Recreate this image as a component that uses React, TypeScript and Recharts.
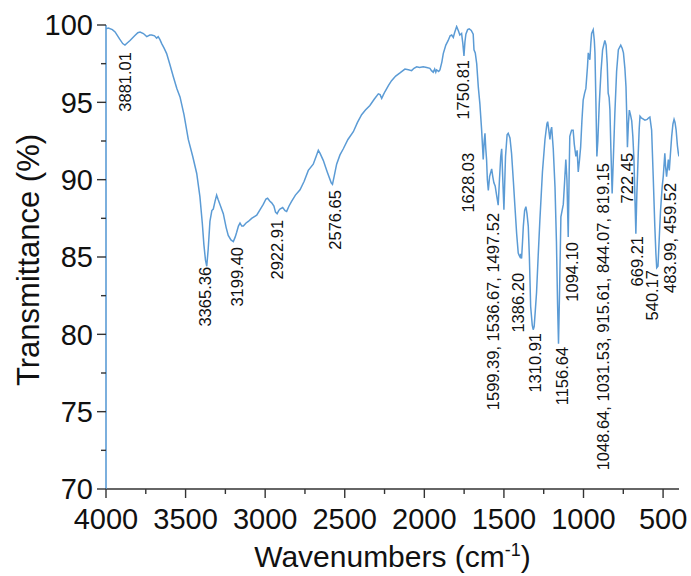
import React from 'react';
import { ComposedChart, Line, Scatter, XAxis, YAxis } from 'recharts';

// ---- spectrum data (wavenumber in cm^-1, transmittance in %) ----
const wavenumbers = [
  4000, 3985, 3960, 3943, 3915, 3895, 3881, 3865, 3849, 3820, 3800, 3786, 3765, 3744, 3725, 3713, 3695, 3682, 3672, 3661,
  3650, 3635, 3619, 3600, 3577, 3555, 3535, 3510, 3483, 3455, 3430, 3410, 3395, 3385, 3375, 3367, 3358, 3347, 3335, 3326,
  3315, 3305, 3295, 3284, 3263, 3245, 3232, 3215, 3200, 3188, 3179, 3168, 3158, 3147, 3137, 3120, 3106, 3085, 3053, 3030,
  3012, 2995, 2985, 2970, 2959, 2945, 2935, 2925, 2915, 2907, 2890, 2875, 2865, 2850, 2834, 2810, 2781, 2755, 2729, 2698,
  2680, 2666, 2655, 2635, 2610, 2585, 2577, 2565, 2551, 2530, 2509, 2480, 2446, 2420, 2394, 2370, 2342, 2315, 2289, 2278,
  2268, 2257, 2247, 2225, 2206, 2180, 2153, 2122, 2100, 2080, 2065, 2048, 2030, 2007, 1985, 1965, 1955, 1944, 1935, 1928,
  1923, 1910, 1902, 1890, 1881, 1865, 1850, 1838, 1828, 1818, 1810, 1797, 1785, 1777, 1766, 1758, 1751, 1745, 1739, 1728,
  1718, 1705, 1693, 1688, 1680, 1671, 1661, 1651, 1640, 1630, 1624, 1619, 1614, 1609, 1604, 1598, 1590, 1577, 1570, 1563,
  1555, 1546, 1536, 1528, 1520, 1514, 1507, 1500, 1490, 1480, 1473, 1462, 1452, 1440, 1431, 1420, 1410, 1404, 1399, 1394,
  1389, 1383, 1378, 1370, 1362, 1355, 1347, 1340, 1332, 1322, 1316, 1310, 1303, 1295, 1285, 1274, 1258, 1242, 1230, 1225,
  1218, 1211, 1205, 1200, 1190, 1179, 1170, 1163, 1157, 1150, 1142, 1127, 1118, 1111, 1104, 1096, 1090, 1086, 1075, 1065,
  1058, 1048, 1040, 1033, 1025, 1018, 1010, 1002, 993, 985, 975, 970, 965, 960, 954, 949, 939, 932, 928, 922,
  916, 910, 901, 890, 880, 866, 858, 851, 845, 839, 834, 828, 820, 812, 803, 792, 781, 766, 757, 749,
  740, 733, 728, 724, 718, 712, 705, 697, 690, 683, 676, 671, 665, 656, 650, 645, 637, 629, 614, 600,
  590, 583, 572, 562, 552, 545, 540, 532, 525, 516, 506, 499, 489, 484, 478, 472, 467, 461, 455, 446,
  438, 431, 425, 418, 410, 404, 400,
];

const transmittance = [
  99.75, 99.8, 99.7, 99.55, 99.1, 98.8, 98.7, 98.85, 99.0, 99.3, 99.5, 99.55, 99.45, 99.25, 99.35, 99.35, 99.3, 99.15, 99.25, 99.05,
  98.8, 98.5, 98.15, 97.5, 96.65, 95.9, 95.35, 94.2, 92.6, 91.5, 90.4, 88.9, 87.2, 85.8, 84.8, 84.4, 85.5, 87.3, 88.0, 88.1,
  88.6, 89.0, 88.7, 88.4, 87.8, 86.9, 86.4, 86.1, 86.0, 86.3, 86.6, 87.0, 87.2, 87.0, 87.0, 87.2, 87.3, 87.5, 87.7, 88.1,
  88.4, 88.75, 88.8, 88.6, 88.5, 88.3, 87.9, 87.8, 88.0, 88.1, 88.2, 88.0, 87.95, 88.3, 88.6, 89.0, 89.35, 89.9, 90.6, 91.0,
  91.5, 91.9, 91.7, 91.25, 90.5, 89.8, 89.7, 90.3, 91.0, 91.6, 92.0, 92.6, 93.1, 93.7, 94.2, 94.5, 94.8, 95.2, 95.55, 95.5,
  95.25, 95.5, 95.7, 96.1, 96.4, 96.7, 96.9, 97.15, 97.1, 97.05, 97.2, 97.3, 97.25, 97.3, 97.25, 97.2, 97.05, 96.95, 97.15, 96.95,
  97.1, 97.0, 97.1, 97.6, 98.15, 98.7, 99.0, 99.3, 99.35, 99.2, 99.5, 99.9, 99.6, 99.35, 99.45, 98.8, 98.0, 98.9, 99.4, 99.7,
  99.75, 99.65, 99.4, 98.4, 98.2, 97.5, 96.0, 94.9, 93.2, 91.3, 92.5, 93.0, 92.0, 91.3, 90.0, 89.3, 90.2, 90.7, 90.2, 89.8,
  89.6, 89.0, 88.35, 90.0, 91.5, 92.0, 90.0, 88.05, 91.5, 92.9, 93.0, 92.7, 91.7, 89.8, 88.3, 86.5, 85.25, 85.1, 85.0, 85.2,
  84.9, 86.0, 87.0, 88.0, 88.25, 87.8, 87.0, 85.0, 81.8, 80.6, 80.3, 80.5, 81.5, 82.7, 85.0, 87.4, 90.5, 92.6, 93.6, 93.75,
  93.2, 92.6, 93.2, 93.4, 92.0, 89.5, 86.0, 82.0, 79.4, 83.0, 87.6, 88.4, 90.0, 91.3, 90.0, 86.3, 90.5, 92.8, 93.2, 93.2,
  92.3, 91.5, 91.9, 90.5, 91.3, 92.1, 93.8, 95.15, 95.6, 95.9, 97.3, 98.2, 98.0, 97.75, 98.8, 99.46, 99.7, 99.0, 98.2, 95.0,
  91.5, 92.5, 94.9, 97.0, 98.4, 99.0, 98.7, 97.5, 95.6, 95.3, 94.5, 92.0, 89.1, 91.5, 94.3, 97.0, 98.4, 98.7, 98.5, 98.2,
  97.2, 96.0, 94.0, 92.1, 93.6, 94.5, 94.2, 93.8, 92.8, 91.3, 88.5, 86.5, 89.0, 91.7, 93.3, 94.1, 94.0, 93.95, 93.85, 93.9,
  94.0, 94.05, 93.2, 90.2, 87.0, 85.2, 84.3, 84.4, 86.0, 88.0, 89.5, 90.2, 91.7, 90.8, 90.2, 90.8, 91.3, 90.6, 91.5, 92.8,
  93.6, 93.9, 93.7, 93.2, 92.2, 91.7, 91.5,
];

// ---- peak annotations ----
const peakLabels = [
  '3881.01', '3365.36', '3199.40', '2922.91', '2576.65', '1750.81', '1628.03',
  '1599.39, 1536.67, 1497.52', '1386.20', '1310.91', '1156.64', '1094.10',
  '1048.64, 1031.53, 915.61, 844.07, 819.15', '722.45', '669.21', '540.17', '483.99, 459.52',
];
const peakLabelWn = [3881, 3378, 3177, 2926, 2562, 1758, 1726, 1569, 1412, 1305, 1136, 1073, 878, 727, 665, 570, 457];
const peakLabelT = [98.25, 84.36, 85.65, 87.4, 89.33, 97.74, 91.73, 87.85, 83.97, 80.09, 79.19, 85.97, 91.08, 91.73, 86.36, 84.16, 89.79];

// ---- axes ----
const xMajorTicks = [4000, 3500, 3000, 2500, 2000, 1500, 1000, 500];
const xMinorTicks = [3750, 3250, 2750, 2250, 1750, 1250, 750];
const yMajorTicks = [70, 75, 80, 85, 90, 95, 100];
const yMinorTicks = [72.5, 77.5, 82.5, 87.5, 92.5, 97.5];

const spectrum = wavenumbers.map((wn, i) => ({ wn, t: transmittance[i] }));
const annotations = peakLabels.map((text, i) => ({ wn: peakLabelWn[i], t: peakLabelT[i], text }));

const FONT = '"Liberation Sans", Arial, Helvetica, sans-serif';
const LINE_COLOR = '#5b9bd5';
const AXIS_COLOR = '#333333';

const xTicksAll = [...xMajorTicks, ...xMinorTicks].sort((a, b) => b - a);
const yTicksAll = [...yMajorTicks, ...yMinorTicks].sort((a, b) => a - b);

const XTick = (props: any) => {
  const { x, y, payload } = props;
  const v = payload.value;
  const major = xMajorTicks.includes(v);
  return (
    <g>
      <line x1={x} x2={x} y1={y} y2={y + (major ? 9 : 5)} stroke={AXIS_COLOR} strokeWidth={1.4} />
      {major && (
        <text x={x} y={y + 19} dy="0.71em" textAnchor="middle" fontFamily={FONT} fontSize={29} fill="#111">
          {v}
        </text>
      )}
    </g>
  );
};

const YTick = (props: any) => {
  const { x, y, payload } = props;
  const v = payload.value;
  const major = yMajorTicks.includes(v);
  return (
    <g>
      <line x1={x} x2={x - (major ? 9 : 5)} y1={y} y2={y} stroke={AXIS_COLOR} strokeWidth={1.4} />
      {major && (
        <text x={x - 13} y={y} dy="0.36em" textAnchor="end" fontFamily={FONT} fontSize={29} fill="#111">
          {v}
        </text>
      )}
    </g>
  );
};

const PeakLabel = (props: any) => {
  const { cx, cy, payload } = props;
  if (cx == null || cy == null) return null;
  return (
    <text
      x={cx}
      y={cy}
      dy="0.36em"
      textAnchor="end"
      transform={`rotate(-90 ${cx} ${cy})`}
      fontFamily={FONT}
      fontSize={16.5}
      fill="#111"
    >
      {payload.text}
    </text>
  );
};

const XTitle = (props: any) => {
  const vb = props.viewBox || {};
  const cx = (vb.x ?? 106) + (vb.width ?? 573) / 2;
  return (
    <text x={cx} y={567} textAnchor="middle" fontFamily={FONT} fontSize={30} fill="#111">
      Wavenumbers (cm
      <tspan dy={-11} fontSize={18}>-1</tspan>
      <tspan dy={11}>)</tspan>
    </text>
  );
};

const YTitle = () => {
  const cy = 260;
  const x = 39;
  return (
    <text x={x} y={cy} textAnchor="middle" transform={`rotate(-90 ${x} ${cy})`} fontFamily={FONT} fontSize={31} fill="#111">
      Transmittance (%)
    </text>
  );
};

export default function App() {
  return (
    <div style={{ position: 'absolute', left: 0, top: 0, width: 691, height: 576, background: '#fff' }}>
      <ComposedChart width={691} height={576} margin={{ top: 25, right: 12, bottom: 0, left: 0 }}>
        <XAxis
          xAxisId="main"
          dataKey="wn"
          type="number"
          domain={[400, 4000]}
          reversed
          allowDataOverflow
          ticks={xTicksAll}
          interval={0}
          tickSize={0}
          tickMargin={0}
          tickLine={false}
          tick={<XTick />}
          axisLine={{ stroke: AXIS_COLOR, strokeWidth: 1.4 }}
          height={87}
          label={<XTitle />}
        />
        <XAxis
          xAxisId="top"
          orientation="top"
          type="number"
          domain={[400, 4000]}
          reversed
          allowDataOverflow
          height={0}
          tick={false}
          tickLine={false}
          axisLine={{ stroke: AXIS_COLOR, strokeWidth: 1.4 }}
        />
        <YAxis
          yAxisId="main"
          type="number"
          domain={[70, 100]}
          allowDataOverflow
          ticks={yTicksAll}
          interval={0}
          tickSize={0}
          tickMargin={0}
          tickLine={false}
          tick={<YTick />}
          axisLine={{ stroke: LINE_COLOR, strokeWidth: 1.6 }}
          width={106}
          label={<YTitle />}
        />
        <YAxis
          yAxisId="right"
          orientation="right"
          type="number"
          domain={[70, 100]}
          width={0}
          tick={false}
          tickLine={false}
          axisLine={{ stroke: AXIS_COLOR, strokeWidth: 1.4 }}
        />
        <Line
          xAxisId="main"
          yAxisId="main"
          data={spectrum}
          dataKey="t"
          type="linear"
          stroke={LINE_COLOR}
          strokeWidth={1.5}
          dot={false}
          activeDot={false}
          isAnimationActive={false}
        />
        <Scatter
          xAxisId="main"
          yAxisId="main"
          data={annotations}
          dataKey="t"
          shape={<PeakLabel />}
          isAnimationActive={false}
        />
      </ComposedChart>
    </div>
  );
}
